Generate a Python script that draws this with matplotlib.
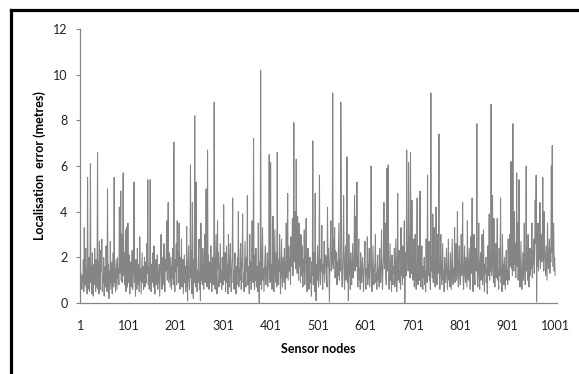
import numpy as np
import matplotlib
matplotlib.use("Agg")
import matplotlib.pyplot as plt
from matplotlib.lines import Line2D

# Localisation error (metres) per sensor node
errors = [
    1.3, 1.1, 0.6, 1.2, 0.9, 1.9, 0.5, 3.3, 1.2, 0.8, 2.4, 0.7, 1.5, 0.4, 5.5, 0.6, 1.1, 2.0, 0.5, 1.4,
    6.1, 0.9, 1.6, 0.4, 2.2, 1.0, 0.3, 1.7, 0.8, 2.4, 1.2, 0.5, 1.9, 0.7, 1.3, 6.6, 0.6, 1.8, 0.4, 2.7,
    1.0, 0.6, 2.3, 1.4, 2.8, 0.5, 1.2, 0.9, 2.0, 0.3, 1.6, 1.1, 0.7, 2.5, 1.3, 0.5, 5.0, 0.8, 1.7, 0.2,
    1.4, 0.9, 2.7, 0.6, 1.2, 1.8, 0.4, 1.0, 2.2, 0.7, 5.5, 0.9, 1.5, 0.5, 1.9, 1.2, 0.6, 2.0, 1.1, 1.5,
    0.8, 4.2, 1.3, 2.6, 4.9, 1.0, 3.0, 0.9, 1.6, 5.7, 1.2, 2.2, 0.8, 1.7, 3.2, 0.5, 3.3, 1.1, 0.7, 3.5,
    1.4, 0.9, 2.1, 0.4, 1.3, 1.8, 0.7, 1.2, 2.3, 0.6, 1.0, 1.5, 5.3, 0.9, 1.4, 0.3, 1.9, 1.1, 0.6, 2.4,
    1.2, 0.8, 1.7, 0.5, 2.9, 1.0, 1.5, 0.4, 1.3, 2.2, 0.9, 1.6, 0.6, 1.1, 2.0, 0.7, 1.4, 1.8, 0.9, 2.6,
    1.3, 5.4, 0.8, 1.6, 0.6, 2.0, 5.4, 1.1, 0.5, 1.7, 0.9, 1.3, 2.2, 0.7, 2.5, 1.0, 0.4, 1.5, 1.9, 0.8,
    1.2, 2.1, 0.6, 1.4, 0.9, 1.7, 0.3, 1.1, 1.8, 3.0, 1.0, 0.6, 1.6, 2.0, 0.8, 2.6, 1.2, 0.5, 1.9, 1.4,
    2.3, 3.6, 1.0, 1.8, 4.4, 0.9, 1.5, 2.2, 0.7, 1.3, 2.0, 0.6, 1.6, 1.1, 2.4, 0.8, 7.05, 1.2, 0.5, 1.9,
    1.4, 2.6, 0.8, 3.6, 1.6, 2.2, 0.9, 3.5, 1.3, 0.6, 2.0, 1.1, 2.8, 0.7, 1.5, 1.9, 0.4, 1.2, 2.1, 0.9,
    1.6, 0.5, 1.3, 3.35, 0.8, 0.1, 1.7, 2.5, 1.0, 0.6, 1.4, 6.05, 1.1, 2.3, 0.4, 4.4, 1.5, 0.2, 1.9, 0.9,
    8.2, 1.2, 0.7, 5.3, 1.8, 0.5, 1.4, 0.9, 2.2, 2.8, 0.6, 1.3, 0.1, 3.5, 1.0, 1.7, 0.8, 2.4, 1.2, 0.6,
    1.5, 3.0, 0.9, 1.9, 5.0, 1.3, 0.7, 6.7, 1.1, 2.1, 0.6, 1.4, 1.8, 0.9, 2.5, 1.2, 0.5, 1.6, 2.0, 0.8,
    1.3, 8.8, 1.0, 0.6, 1.7, 3.0, 1.2, 0.4, 3.6, 1.5, 2.2, 0.7, 1.1, 1.8, 2.6, 0.9, 1.4, 0.6, 2.0, 1.2,
    0.8, 4.3, 1.6, 1.0, 2.2, 0.5, 1.3, 2.5, 0.9, 1.7, 0.4, 3.0, 1.2, 0.7, 1.9, 2.6, 1.0, 0.5, 1.5, 2.1,
    4.6, 0.9, 1.4, 0.6, 1.8, 2.2, 1.1, 0.4, 1.6, 0.8, 2.0, 1.3, 4.0, 0.7, 1.5, 1.0, 2.3, 2.6, 0.6, 1.4,
    1.9, 3.9, 0.9, 1.3, 0.5, 1.7, 2.7, 1.1, 0.7, 2.0, 1.4, 4.7, 0.8, 1.6, 1.2, 0.4, 3.0, 1.0, 1.8, 0.6,
    1.5, 3.6, 1.2, 0.9, 7.2, 1.3, 0.6, 2.1, 1.0, 2.4, 0.7, 1.6, 1.2, 0.5, 3.5, 1.4, 0.02, 1.8, 0.8, 10.2,
    1.1, 0.6, 1.9, 3.3, 1.0, 1.5, 0.5, 1.3, 2.0, 2.5, 0.8, 1.6, 1.1, 2.2, 0.7, 1.4, 1.9, 6.5, 1.2, 0.9,
    6.15, 1.0, 1.7, 0.6, 1.3, 3.8, 1.1, 0.5, 1.8, 3.2, 0.9, 1.5, 2.2, 0.7, 6.6, 1.2, 0.8, 1.9, 1.4, 3.0,
    1.0, 0.4, 1.6, 2.8, 1.2, 0.7, 2.0, 1.5, 0.9, 2.4, 1.3, 0.6, 1.8, 3.5, 1.1, 2.2, 4.8, 1.0, 1.7, 2.5,
    1.4, 2.0, 0.8, 2.9, 1.6, 2.3, 3.7, 1.2, 2.6, 7.9, 1.8, 2.4, 4.0, 1.5, 6.3, 2.8, 1.3, 3.8, 2.1, 1.0,
    3.5, 1.6, 2.4, 0.9, 3.0, 1.8, 1.2, 2.5, 0.7, 1.9, 1.4, 3.2, 0.8, 1.6, 2.2, 3.7, 1.0, 0.5, 1.7, 2.4,
    1.1, 0.6, 1.5, 2.0, 0.9, 1.3, 0.3, 1.8, 1.2, 7.1, 0.8, 1.6, 2.2, 0.5, 4.8, 1.1, 0.1, 1.7, 1.0, 2.5,
    1.3, 0.7, 2.0, 5.6, 1.2, 0.8, 1.9, 1.4, 3.4, 1.0, 0.6, 1.7, 1.3, 2.7, 0.9, 1.5, 2.1, 2.0, 1.1, 0.7,
    4.2, 1.6, 2.4, 1.2, 0.05, 1.8, 2.6, 3.6, 1.4, 2.2, 1.7, 9.2, 1.5, 2.8, 1.9, 3.3, 1.1, 2.3, 1.6, 2.2,
    0.8, 1.8, 1.2, 2.4, 3.5, 1.0, 1.9, 1.4, 8.8, 5.4, 1.1, 0.7, 1.5, 2.3, 4.7, 1.2, 0.6, 1.8, 2.5, 1.0,
    1.4, 6.4, 0.9, 1.6, 0.1, 3.0, 1.2, 1.9, 0.6, 2.2, 1.3, 0.8, 1.7, 2.6, 1.1, 1.5, 2.0, 4.7, 1.4, 2.3,
    3.8, 1.6, 5.3, 1.2, 0.7, 1.9, 2.8, 1.0, 1.5, 0.6, 2.2, 1.3, 0.9, 1.7, 2.0, 1.1, 0.5, 1.4, 1.8, 2.7,
    1.0, 0.6, 1.5, 1.2, 2.9, 0.8, 1.7, 1.1, 2.4, 0.7, 1.3, 1.9, 6.0, 1.0, 0.5, 1.6, 2.5, 1.2, 0.8, 1.4,
    1.8, 3.0, 0.9, 1.3, 0.6, 1.7, 2.1, 1.0, 1.5, 0.7, 2.4, 1.2, 0.9, 1.8, 3.2, 1.1, 0.6, 1.6, 2.0, 4.4,
    1.5, 2.2, 3.5, 1.2, 0.8, 5.9, 1.4, 2.0, 6.05, 1.1, 0.6, 1.7, 2.6, 1.0, 1.4, 0.5, 2.1, 1.2, 0.8, 1.6,
    1.3, 2.4, 0.7, 1.1, 2.8, 1.6, 0.5, 1.2, 4.8, 1.0, 1.8, 2.3, 0.9, 1.4, 0.6, 3.3, 1.2, 1.7, 0.8, 2.5,
    1.1, 1.9, 3.6, 0.0, 1.5, 2.2, 1.2, 6.7, 1.8, 2.5, 1.4, 6.15, 1.6, 2.9, 1.1, 6.6, 1.9, 1.3, 4.5, 2.0,
    1.0, 1.6, 2.8, 0.7, 1.3, 3.0, 1.1, 0.6, 1.7, 4.6, 1.2, 0.8, 2.5, 1.4, 1.0, 4.9, 1.5, 0.7, 1.9, 2.5,
    1.2, 0.6, 1.6, 1.1, 2.0, 0.8, 1.4, 0.5, 2.8, 1.3, 0.9, 5.6, 1.2, 1.7, 2.7, 1.0, 1.5, 0.6, 9.2, 1.4,
    2.0, 1.1, 3.9, 0.9, 1.6, 3.3, 1.2, 0.7, 1.8, 4.2, 1.4, 0.8, 3.0, 1.3, 1.9, 7.4, 1.1, 0.6, 1.5, 3.0,
    1.2, 0.8, 1.7, 2.6, 1.0, 1.4, 0.5, 2.0, 1.3, 0.9, 1.6, 2.4, 1.1, 0.6, 1.5, 2.8, 1.0, 1.4, 0.7, 2.2,
    1.3, 0.6, 1.7, 2.8, 1.1, 0.8, 1.5, 1.2, 3.3, 0.9, 1.6, 2.6, 1.0, 1.4, 4.0, 1.2, 0.7, 1.8, 2.5, 1.1,
    0.8, 1.6, 3.0, 1.2, 1.9, 4.4, 1.0, 0.6, 1.5, 2.5, 1.2, 0.9, 2.0, 1.3, 0.7, 3.6, 1.4, 1.0, 1.7, 2.4,
    1.1, 0.6, 2.9, 1.3, 1.8, 4.6, 1.0, 0.5, 1.6, 3.0, 1.2, 0.8, 2.4, 1.4, 1.9, 7.85, 1.1, 0.7, 1.5, 3.5,
    1.2, 0.6, 1.8, 2.2, 1.0, 1.4, 3.0, 0.8, 1.6, 3.2, 1.1, 0.5, 1.7, 1.3, 2.0, 0.9, 1.5, 0.4, 2.5, 1.2,
    1.8, 3.9, 1.0, 2.2, 1.4, 8.7, 1.2, 2.0, 4.7, 1.5, 0.9, 3.7, 1.3, 0.7, 1.8, 2.6, 1.1, 1.6, 3.7, 1.0,
    1.4, 0.6, 2.4, 1.2, 1.8, 4.6, 0.9, 1.5, 0.5, 3.0, 1.2, 1.7, 0.8, 2.0, 1.3, 0.6, 1.6, 2.3, 1.0, 1.4,
    0.8, 2.8, 1.3, 1.0, 3.0, 1.6, 2.2, 6.2, 1.5, 2.5, 1.2, 7.85, 2.0, 1.4, 4.0, 1.7, 2.6, 1.1, 2.2, 5.7,
    1.6, 3.5, 1.0, 2.0, 5.4, 1.4, 0.7, 1.8, 2.7, 1.2, 0.6, 1.5, 2.2, 1.0, 1.7, 3.5, 1.3, 0.8, 1.9, 6.0,
    1.4, 2.2, 1.0, 3.0, 1.6, 0.7, 1.9, 2.4, 1.2, 2.0, 1.5, 3.5, 1.1, 2.3, 1.7, 2.8, 1.3, 2.2, 4.5, 2.6,
    5.6, 0.05, 2.0, 1.6, 3.5, 1.4, 2.5, 1.9, 4.4, 1.5, 2.2, 3.0, 1.8, 2.6, 5.5, 2.0, 1.4, 4.0, 2.3, 1.7,
    1.2, 2.5, 1.8, 1.0, 3.5, 2.2, 1.5, 2.0, 2.8, 1.3, 2.4, 1.8, 6.0, 2.2, 6.9, 1.6, 2.5, 3.5, 1.4, 2.0,
    1.2,
]
nodes = list(range(1, len(errors) + 1))
x_ticks = [1, 101, 201, 301, 401, 501, 601, 701, 801, 901, 1001]
y_ticks = [0, 2, 4, 6, 8, 10, 12]

W, H = 579, 374
fig = plt.figure(figsize=(W / 100, H / 100), dpi=100)
ax = fig.add_axes([80 / W, 1 - 303 / H, 477 / W, 274 / H])

ax.plot(nodes, errors, color="#858585", lw=0.75)

font = "Lato"
ax.set_xlim(-1, 1005)
ax.set_ylim(0, 12)
ax.set_xticks(x_ticks)
ax.set_xticklabels([str(t) for t in x_ticks], fontname=font, fontsize=9)
ax.set_yticks(y_ticks)
ax.set_yticklabels([str(t) for t in y_ticks], fontname=font, fontsize=9)
ax.tick_params(axis="x", length=0, pad=12, colors="#222222")
ax.tick_params(axis="y", length=3, width=0.8, color="#868686", pad=6, labelcolor="#222222")
for s in ["top", "right"]:
    ax.spines[s].set_visible(False)
for s in ["left", "bottom"]:
    ax.spines[s].set_color("#868686")
    ax.spines[s].set_linewidth(0.9)

ax.set_xlabel("Sensor nodes", fontname=font, fontsize=9, fontweight="bold", labelpad=8)
ax.set_ylabel("Localisation  error (metres)", fontname=font, fontsize=9, fontweight="bold")
ax.yaxis.set_label_coords(-0.071, 0.5)

# outer black frame (left and top edges visible)
lx = 11 / W
ty = 1 - 10 / H
fig.add_artist(Line2D([lx, lx], [0, ty], transform=fig.transFigure, color="black", lw=2.3))
fig.add_artist(Line2D([lx, 1], [ty, ty], transform=fig.transFigure, color="black", lw=2.3))

fig.savefig("out.png", dpi=100)
